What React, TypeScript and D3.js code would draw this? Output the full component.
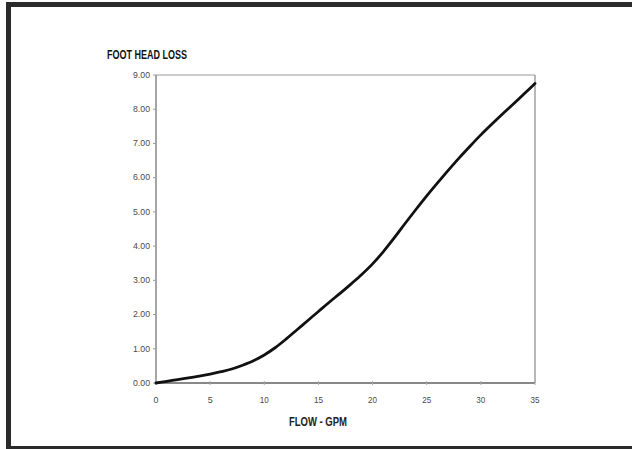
import React from "react";
import * as d3 from "d3";

const flowGpm = [0, 1, 2, 3, 4, 5, 6, 7, 8, 9, 10, 11, 12, 13, 14, 15, 16, 17, 18, 19, 20, 21, 22, 23, 24, 25, 26, 27, 28, 29, 30, 31, 32, 33, 34, 35];
const headLoss = [0, 0.05, 0.1, 0.15, 0.2, 0.26, 0.33, 0.41, 0.52, 0.65, 0.82, 1.03, 1.28, 1.55, 1.82, 2.09, 2.36, 2.62, 2.89, 3.17, 3.48, 3.84, 4.24, 4.66, 5.07, 5.47, 5.85, 6.22, 6.58, 6.92, 7.25, 7.56, 7.86, 8.15, 8.45, 8.75];
const xTicks = [0, 5, 10, 15, 20, 25, 30, 35];
const yTicks = [0, 1, 2, 3, 4, 5, 6, 7, 8, 9];
const yTitle = "FOOT HEAD LOSS";
const xTitle = "FLOW - GPM";

const W = 632;
const H = 449;
const left = 156;
const right = 535;
const top = 75;
const bottom = 383;
const font = "'Liberation Sans', Arial, sans-serif";

export default function App() {
  const x = d3.scaleLinear().domain([0, 35]).range([left, right]);
  const y = d3.scaleLinear().domain([0, 9]).range([bottom, top]);
  const pts = flowGpm.map((v, i) => [v, headLoss[i]] as [number, number]);
  const line = d3
    .line<[number, number]>()
    .x((d) => x(d[0]))
    .y((d) => y(d[1]))
    .curve(d3.curveMonotoneX);

  return (
    <svg
      width={W}
      height={H}
      style={{ position: "absolute", left: 0, top: 0, background: "#fff" }}
    >
      {/* outer frame */}
      <rect x={6} y={2} width={W - 6} height={5} fill="#2b2b2b" />
      <rect x={6} y={2} width={5} height={H - 2} fill="#2b2b2b" />
      <rect x={6} y={446} width={W - 6} height={3} fill="#2b2b2b" />

      {/* plot frame */}
      <line x1={left} x2={right} y1={top} y2={top} stroke="#999" strokeWidth={1.2} />
      <line x1={right} x2={right} y1={top} y2={bottom} stroke="#888" strokeWidth={1.2} />
      <line x1={left} x2={left} y1={top} y2={bottom} stroke="#888" strokeWidth={1.5} />
      <line x1={left} x2={right} y1={bottom} y2={bottom} stroke="#888" strokeWidth={2} />

      {yTicks.map((t) => (
        <g key={"y" + t}>
          <line x1={left - 3} x2={left} y1={y(t)} y2={y(t)} stroke="#999" strokeWidth={1} />
          <text
            x={left - 6}
            y={y(t)}
            dy="0.33em"
            textAnchor="end"
            fontFamily={font}
            fontSize={8.5}
            fill="#4a4a4a"
            textLength={17}
            lengthAdjust="spacingAndGlyphs"
          >
            {t.toFixed(2)}
          </text>
        </g>
      ))}
      {xTicks.map((t) => (
        <g key={"x" + t}>
          <line x1={x(t)} x2={x(t)} y1={bottom - 2} y2={bottom + 2} stroke="#aaa" strokeWidth={1} />
          <text
            x={x(t)}
            y={403}
            textAnchor="middle"
            fontFamily={font}
            fontSize={9.5}
            fill="#4a4a4a"
            textLength={t < 10 ? 5 : 9}
            lengthAdjust="spacingAndGlyphs"
          >
            {t}
          </text>
        </g>
      ))}

      <path d={line(pts) || ""} fill="none" stroke="#111" strokeWidth={2.8} strokeLinecap="round" />

      <text
        x={107}
        y={59}
        fontFamily={font}
        fontWeight="bold"
        fontSize={12.5}
        fill="#111"
        textLength={80}
        lengthAdjust="spacingAndGlyphs"
      >
        {yTitle}
      </text>
      <text
        x={318}
        y={426}
        textAnchor="middle"
        fontFamily={font}
        fontWeight="bold"
        fontSize={13}
        fill="#222"
        textLength={58}
        lengthAdjust="spacingAndGlyphs"
      >
        {xTitle}
      </text>
    </svg>
  );
}
